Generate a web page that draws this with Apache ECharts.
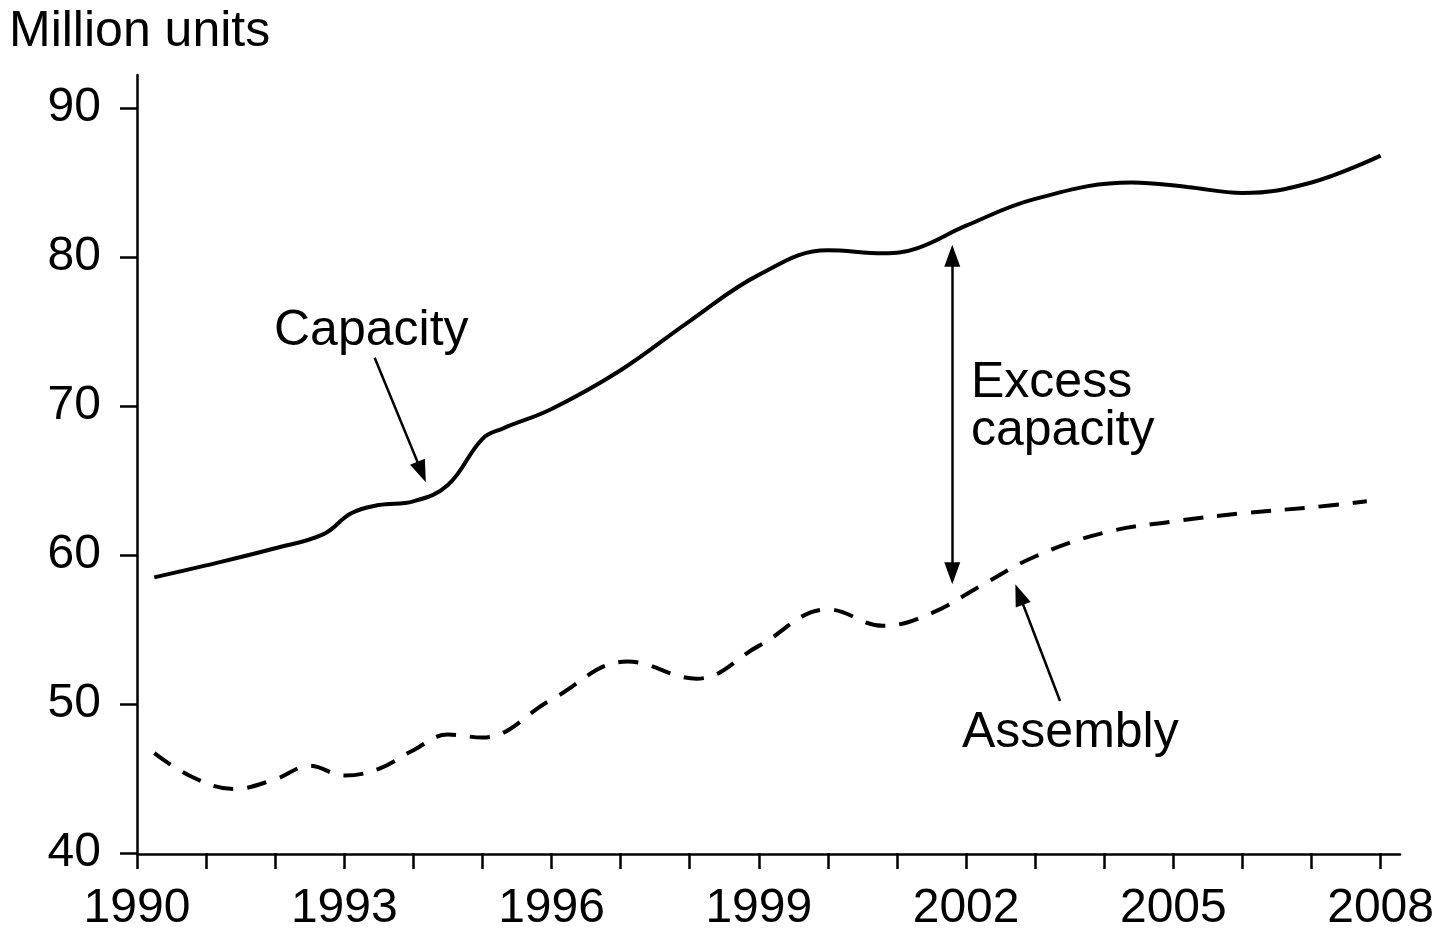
<!DOCTYPE html>
<html>
<head>
<meta charset="utf-8">
<script src="https://cdn.jsdelivr.net/npm/echarts@6/dist/echarts.min.js"></script>
<style>
  html, body { margin: 0; padding: 0; background: #fff; }
  #chart { width: 1437px; height: 933px; }
</style>
</head>
<body>
<div id="chart"></div>
<script>
// values (year, million units)
const capacityYears = [1990.25, 1991, 1992, 1992.7, 1993.1, 1993.5, 1994, 1994.5, 1995, 1995.3, 1996, 1997, 1998, 1999, 2000, 2000.8, 2001.3, 2002, 2003, 2004.4, 2005.2, 2006, 2007, 2008];
const capacityValues = [58.5, 59.3, 60.45, 61.4, 62.8, 63.35, 63.6, 64.7, 67.8, 68.5, 69.8, 72.4, 75.7, 78.8, 80.45, 80.25, 80.6, 82.1, 83.9, 85.0, 84.7, 84.3, 85.0, 86.8];
const assemblyYears = [1990.25, 1990.8, 1991.4, 1992, 1992.5, 1993, 1993.5, 1994, 1994.5, 1995, 1996, 1997.1, 1998.1, 1999, 2000, 2000.8, 2001.5, 2002.2, 2003, 2004, 2005, 2006, 2007, 2007.8];
const assemblyValues = [46.7, 45.1, 44.3, 44.95, 45.85, 45.2, 45.65, 46.9, 47.95, 47.75, 50.3, 52.85, 51.7, 53.9, 56.35, 55.25, 56.1, 57.9, 59.9, 61.5, 62.25, 62.8, 63.2, 63.6];
const yearLabels = [1990, 1993, 1996, 1999, 2002, 2005, 2008];
const yTicks = [40, 50, 60, 70, 80, 90];

const pair = (xs, ys) => xs.map((x, i) => [x, ys[i]]);

const font = '"Liberation Sans", Arial, sans-serif';
const tickSize = 48;
const textSize = 50;

var myChart = echarts.init(document.getElementById('chart'));

var option = {
  animation: false,
  title: {
    text: 'Million units',
    left: 4,
    top: 2,
    textStyle: { color: '#000', fontSize: textSize, fontWeight: 'normal', fontFamily: font }
  },
  grid: [
    { left: 137, right: 54, top: 108, bottom: 79 },
    // only for the axis lines running past the last ticks
    { left: 137, right: 37, top: 75, bottom: 79 }
  ],
  xAxis: [
    {
      type: 'value', gridIndex: 0,
      min: 1990, max: 2008, interval: 1,
      splitLine: { show: false },
      axisLine: { show: false },
      axisTick: { show: true, inside: false, length: 16, lineStyle: { color: '#000', width: 2.5 } },
      axisLabel: {
        color: '#000', fontSize: tickSize, fontFamily: font, margin: 32,
        formatter: v => yearLabels.indexOf(v) >= 0 ? String(v) : ''
      }
    },
    {
      type: 'value', gridIndex: 1, min: 0, max: 1,
      axisLine: { show: true, lineStyle: { color: '#000', width: 2.5 } },
      axisTick: { show: false }, axisLabel: { show: false }, splitLine: { show: false }
    }
  ],
  yAxis: [
    {
      type: 'value', gridIndex: 0,
      min: 40, max: 90, interval: 10,
      splitLine: { show: false },
      axisLine: { show: false },
      axisTick: { show: true, length: 17, lineStyle: { color: '#000', width: 2.5 } },
      axisLabel: {
        color: '#000', fontSize: tickSize, fontFamily: font, margin: 36,
        formatter: v => yTicks.indexOf(v) >= 0 ? String(v) : ''
      }
    },
    {
      type: 'value', gridIndex: 1, min: 0, max: 1,
      axisLine: { show: true, lineStyle: { color: '#000', width: 2.5 } },
      axisTick: { show: false }, axisLabel: { show: false }, splitLine: { show: false }
    }
  ],
  series: [
    {
      name: 'Capacity',
      type: 'line',
      xAxisIndex: 0, yAxisIndex: 0,
      data: pair(capacityYears, capacityValues),
      smooth: 0.4,
      showSymbol: false,
      lineStyle: { color: '#000', width: 4 },
      markLine: {
        silent: true,
        symbolSize: [16, 22],
        label: { show: false },
        lineStyle: { color: '#000', width: 2.5, type: 'solid' },
        data: [
          [{ coord: [1993.44, 73.24], symbol: 'none' }, { coord: [1994.12, 65.57], symbol: 'triangle' }],
          [{ coord: [2001.8, 80.08], symbol: 'triangle' }, { coord: [2001.8, 58.77], symbol: 'triangle' }],
          [{ coord: [2003.36, 50.2], symbol: 'none' }, { coord: [2002.77, 57.35], symbol: 'triangle' }]
        ]
      }
    },
    {
      name: 'Assembly',
      type: 'line',
      xAxisIndex: 0, yAxisIndex: 0,
      data: pair(assemblyYears, assemblyValues),
      smooth: 0.4,
      showSymbol: false,
      lineStyle: { color: '#000', width: 4, type: [20, 14] }
    }
  ],
  graphic: [
    { type: 'text', left: 274, top: 306, style: { text: 'Capacity', font: textSize + 'px ' + font, fill: '#000' } },
    { type: 'text', left: 971, top: 358, style: { text: 'Excess\ncapacity', font: textSize + 'px ' + font, fill: '#000', lineHeight: 48 } },
    { type: 'text', left: 962, top: 708, style: { text: 'Assembly', font: textSize + 'px ' + font, fill: '#000' } }
  ]
};

myChart.setOption(option);
window.onresize = myChart.resize;
</script>
</body>
</html>
